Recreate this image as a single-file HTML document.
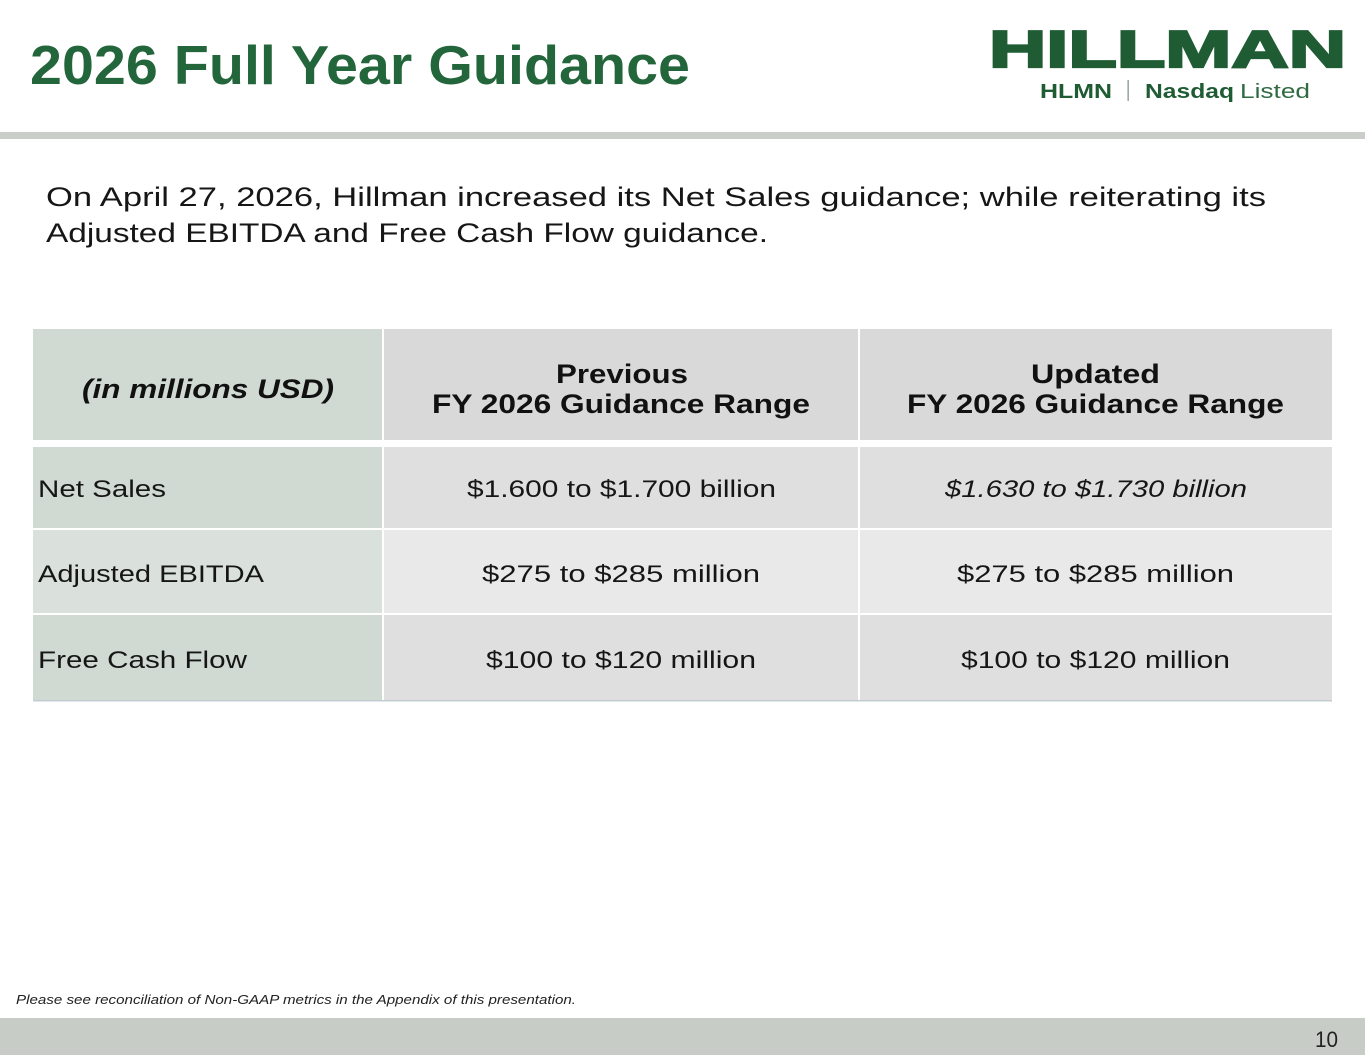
<!DOCTYPE html>
<html><head><meta charset="utf-8"><style>
html,body{margin:0;padding:0;background:#fff;}
svg{display:block;}
</style></head><body>
<svg width="1365" height="1055" viewBox="0 0 1365 1055" xmlns="http://www.w3.org/2000/svg" font-family="'Liberation Sans', sans-serif">
<rect x="0" y="0" width="1365" height="1055" fill="#ffffff"/>
<!-- Title -->
<text x="30" y="84" font-size="55" font-weight="bold" fill="#24663b" textLength="660" lengthAdjust="spacingAndGlyphs">2026 Full Year Guidance</text>
<!-- Logo -->
<text x="989" y="67" font-size="52" font-weight="bold" fill="#1f5c34" stroke="#1f5c34" stroke-width="2.2" textLength="357" lengthAdjust="spacingAndGlyphs">HILLMAN</text>
<text x="1040" y="98" font-size="20" font-weight="bold" fill="#1f5c34" textLength="72" lengthAdjust="spacingAndGlyphs">HLMN</text>
<rect x="1127.5" y="80" width="1.3" height="21" fill="#8a958c"/>
<text x="1145" y="98" font-size="20" font-weight="bold" fill="#1f5c34" textLength="89" lengthAdjust="spacingAndGlyphs">Nasdaq</text>
<text x="1240" y="98" font-size="20" fill="#2f6a42" textLength="70" lengthAdjust="spacingAndGlyphs">Listed</text>
<!-- Header band -->
<rect x="0" y="132" width="1365" height="7" fill="#c9cec8"/>
<!-- Intro -->
<text x="46" y="206" font-size="27" fill="#161616" textLength="1220" lengthAdjust="spacingAndGlyphs">On April 27, 2026, Hillman increased its Net Sales guidance; while reiterating its</text>
<text x="46" y="242" font-size="27" fill="#161616" textLength="722" lengthAdjust="spacingAndGlyphs">Adjusted EBITDA and Free Cash Flow guidance.</text>
<!-- Table header -->
<rect x="33" y="329" width="349" height="111" fill="#d0d9d2"/>
<rect x="384" y="329" width="474" height="111" fill="#d9d9d9"/>
<rect x="860" y="329" width="472" height="111" fill="#d9d9d9"/>
<!-- Row 1 -->
<rect x="33" y="447" width="349" height="81" fill="#d0d9d2"/>
<rect x="384" y="447" width="474" height="81" fill="#dfdfdf"/>
<rect x="860" y="447" width="472" height="81" fill="#dfdfdf"/>
<!-- Row 2 -->
<rect x="33" y="530" width="349" height="83" fill="#dae1dc"/>
<rect x="384" y="530" width="474" height="83" fill="#e9e9e9"/>
<rect x="860" y="530" width="472" height="83" fill="#e9e9e9"/>
<!-- Row 3 -->
<rect x="33" y="615" width="349" height="85" fill="#d0d9d2"/>
<rect x="384" y="615" width="474" height="85" fill="#dfdfdf"/>
<rect x="860" y="615" width="472" height="85" fill="#dfdfdf"/>
<rect x="33" y="700" width="1299" height="1.5" fill="#c3ccd0"/>
<!-- Header text -->
<text x="82" y="398" font-size="27" font-weight="bold" font-style="italic" fill="#111" textLength="252" lengthAdjust="spacingAndGlyphs">(in millions USD)</text>
<text x="556" y="383" font-size="27" font-weight="bold" fill="#111" textLength="132" lengthAdjust="spacingAndGlyphs">Previous</text>
<text x="432" y="413" font-size="27" font-weight="bold" fill="#111" textLength="378" lengthAdjust="spacingAndGlyphs">FY 2026 Guidance Range</text>
<text x="1031" y="383" font-size="27" font-weight="bold" fill="#111" textLength="129" lengthAdjust="spacingAndGlyphs">Updated</text>
<text x="907" y="413" font-size="27" font-weight="bold" fill="#111" textLength="377" lengthAdjust="spacingAndGlyphs">FY 2026 Guidance Range</text>
<!-- Body text -->
<text x="38" y="497" font-size="24" fill="#161616" textLength="128" lengthAdjust="spacingAndGlyphs">Net Sales</text>
<text x="467" y="497" font-size="24" fill="#161616" textLength="309" lengthAdjust="spacingAndGlyphs">$1.600 to $1.700 billion</text>
<text x="945" y="497" font-size="24" font-style="italic" fill="#161616" textLength="302" lengthAdjust="spacingAndGlyphs">$1.630 to $1.730 billion</text>
<text x="38" y="582" font-size="24" fill="#161616" textLength="226" lengthAdjust="spacingAndGlyphs">Adjusted EBITDA</text>
<text x="482" y="582" font-size="24" fill="#161616" textLength="278" lengthAdjust="spacingAndGlyphs">$275 to $285 million</text>
<text x="957" y="582" font-size="24" fill="#161616" textLength="277" lengthAdjust="spacingAndGlyphs">$275 to $285 million</text>
<text x="38" y="668" font-size="24" fill="#161616" textLength="209" lengthAdjust="spacingAndGlyphs">Free Cash Flow</text>
<text x="486" y="668" font-size="24" fill="#161616" textLength="270" lengthAdjust="spacingAndGlyphs">$100 to $120 million</text>
<text x="961" y="668" font-size="24" fill="#161616" textLength="269" lengthAdjust="spacingAndGlyphs">$100 to $120 million</text>
<!-- Footnote -->
<text x="16" y="1004" font-size="13" font-style="italic" fill="#222" textLength="560" lengthAdjust="spacingAndGlyphs">Please see reconciliation of Non-GAAP metrics in the Appendix of this presentation.</text>
<!-- Bottom band -->
<rect x="0" y="1018" width="1365" height="37" fill="#c7ccc6"/>
<text x="1315" y="1047" font-size="22" fill="#222" textLength="23" lengthAdjust="spacingAndGlyphs">10</text>
</svg>
</body></html>
